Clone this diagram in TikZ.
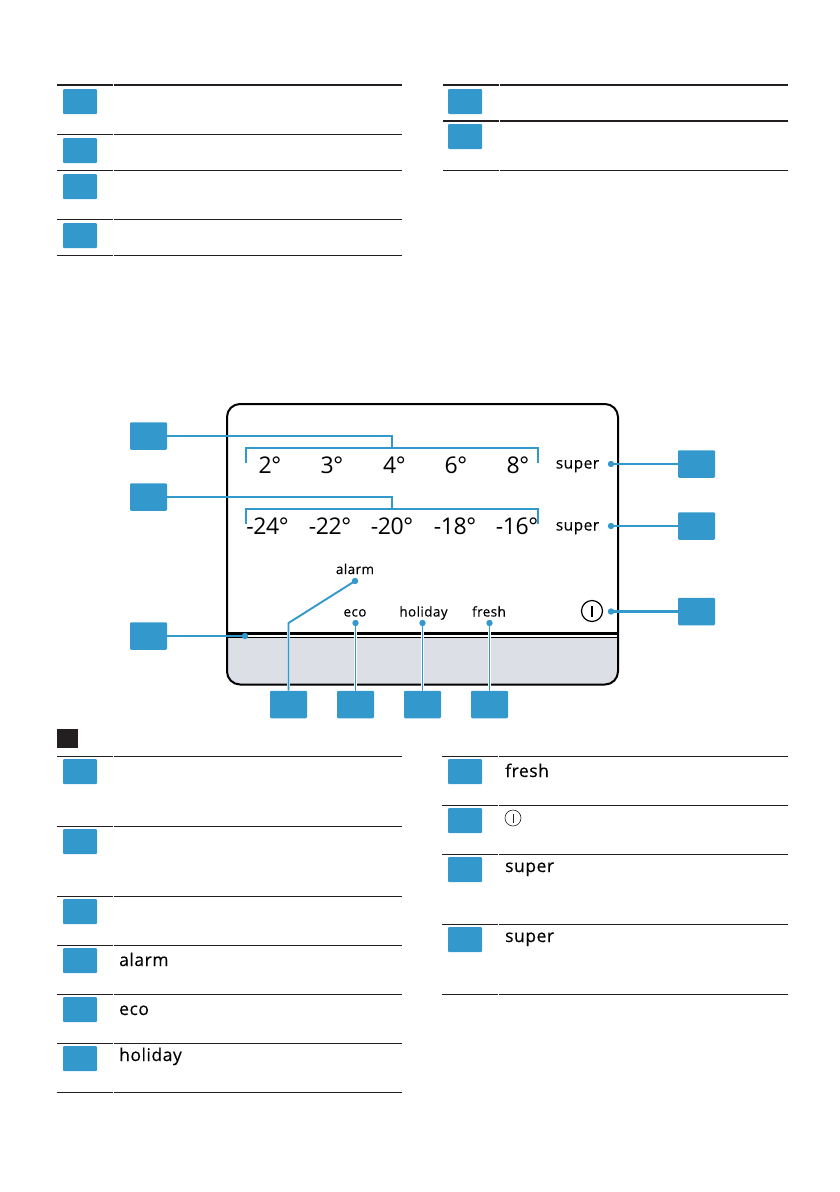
\documentclass[tikz,border=0pt]{standalone}
\usepackage{xcolor}
\usepackage{fontspec}
\setmainfont{Open Sans}[LetterSpace=3,FakeBold=0.25]
\newfontfamily\digitfont{Open Sans}[LetterSpace=-2]
\usetikzlibrary{positioning,calc}
\definecolor{calloutblue}{HTML}{3399CC}
\definecolor{rulegray}{HTML}{231F20}
\definecolor{panelgray}{HTML}{DCDFE6}
\tikzset{
    tablebox/.style={fill=calloutblue,draw=none,rounded corners=1pt,inner sep=0pt,minimum width=34pt,minimum height=25pt},
    calloutbox/.style={fill=calloutblue,draw=none,rounded corners=1.2pt,inner sep=0pt,minimum width=37pt,minimum height=27.5pt},
    dotmark/.style={circle,inner sep=0pt,minimum size=6.4pt},
    leader/.style={draw=calloutblue,line width=1.9pt},
    halo/.style={preaction={draw=white,line width=2.8pt}},
    smalllabel/.style={font=\fontsize{13.5}{16}\selectfont,anchor=base,inner sep=0pt},
    superlabel/.style={font=\fontsize{15.5}{18}\selectfont,anchor=base,inner sep=0pt},
    biglabel/.style={font=\fontsize{17.5}{20}\selectfont,anchor=base west,inner sep=0pt},
    templabel/.style={font=\fontsize{23}{25}\selectfont,anchor=base,inner sep=0pt},
    tablerule/.style={draw=rulegray,line width=1pt}
}
\begin{document}
\begin{tikzpicture}[x=1pt,y=-1pt]
    \useasboundingbox (0,0) rectangle (840,1192);
    % table rules
    \foreach \xa/\xb/\xc/\ypos/\wd in {
        57/113/402/85/2,57/113/402/134/1,57/113/402/170/1,57/113/402/219/1,57/113/402/255/1,
        443/499/788/85/2,443/499/788/120.5/2,443/499/788/170/1,
        57/113/402/756/1,57/113/402/826/1,57/113/402/896/1,57/113/402/945/1,57/113/402/994/1,57/113/402/1043/1,57/113/402/1092/1,
        442/498/788/756/1,442/498/788/805/1,442/498/788/854/1,442/498/788/924/1,442/498/788/994/1}{
        \draw[tablerule,line width=\wd pt] (\xa,\ypos) -- (\xb,\ypos);
        \draw[tablerule,line width=\wd pt] (\xb+0.6,\ypos) -- (\xc,\ypos);
    }
    % table boxes
    \foreach \xpos/\ypos in {
        80/101.5,80/150.5,80/186.5,80/235.5,
        465/101.5,465/136.5,
        80/771.5,80/841.5,80/911.5,80/960.5,80/1009.5,80/1058.5,
        465/771.5,465/820.5,465/869.5,465/939.5}{
        \node[tablebox] at (\xpos,\ypos) {};
    }
    \node[fill=rulegray,inner sep=0pt,minimum width=21pt,minimum height=19pt] (notesquare) at (67.5,738.5) {};
    % table labels
    \node[biglabel] (rowalarm) at (119,966) {alarm};
    \node[biglabel] (roweco) at (119,1015) {eco};
    \node[biglabel] (rowholiday) at (119,1061) {holiday};
    \node[biglabel] (rowfresh) at (505,777) {fresh};
    \node[biglabel] (rowsupera) at (505,872) {super};
    \node[biglabel] (rowsuperb) at (505,942) {super};
    \node[circle,draw=rulegray,line width=0.6pt,inner sep=0pt,minimum size=16pt] (rowpower) at (513,818) {};
    \draw[rulegray,line width=0.6pt] ($(rowpower.center)+(0,-4.5)$) -- ($(rowpower.center)+(0,4.5)$);
    % display
    \fill[panelgray] (227,638) -- (618,638) -- (618,671) arc[start angle=0,end angle=90,radius=13] -- (240,684) arc[start angle=90,end angle=180,radius=13] -- cycle;
    \draw[black,line width=2pt,rounded corners=13pt] (227,404) rectangle (618,684.5);
    \draw[black,line width=3pt] (227,633.5) -- (618,633.5);
    \draw[black,line width=1.3pt] (227,637.5) -- (618,637.5);
    % temperatures
    \foreach \xpos/\temp in {270/2,332/3,394.5/4,456/6,518/8}{
        \node[templabel] at (\xpos,473) {\digitfont\temp°};
    }
    \foreach \xpos/\temp in {267.5/-24,330/-22,392/-20,455/-18,517/-16}{
        \node[templabel] at (\xpos,534) {\digitfont\temp°};
    }
    % display labels
    \node[smalllabel] (labalarm) at (355,574) {alarm};
    \node[smalllabel] (labeco) at (355,616.5) {eco};
    \node[smalllabel] (labholiday) at (423.5,616.5) {holiday};
    \node[smalllabel] (labfresh) at (489,616.5) {fresh};
    \node[superlabel] (labsupera) at (577.5,468.5) {super};
    \node[superlabel] (labsuperb) at (577.5,530.5) {super};
    \node[circle,draw=black,line width=1.2pt,inner sep=0pt,minimum size=21pt] (labpower) at (592,611) {};
    \draw[black,line width=1.3pt] ($(labpower.center)+(0,-5.5)$) -- ($(labpower.center)+(0,5.5)$);
    % callout boxes
    \node[calloutbox] (boxtempa) at (148.5,436) {};
    \node[calloutbox] (boxtempb) at (148.5,497) {};
    \node[calloutbox] (boxpanel) at (148.5,636) {};
    \node[calloutbox] (boxalarm) at (288.5,704.5) {};
    \node[calloutbox] (boxeco) at (355.5,704.5) {};
    \node[calloutbox] (boxholiday) at (422.5,704.5) {};
    \node[calloutbox] (boxfresh) at (489.5,704.5) {};
    \node[calloutbox] (boxsupera) at (696.5,464) {};
    \node[calloutbox] (boxsuperb) at (696.5,526) {};
    \node[calloutbox] (boxpower) at (696.5,611.5) {};
    % brackets
    \coordinate (brkal) at (246,463);
    \coordinate (brkam) at (392,448);
    \coordinate (brkar) at (538,463);
    \coordinate (brkbl) at (246,524);
    \coordinate (brkbm) at (392,508.7);
    \coordinate (brkbr) at (538,524);
    \draw[leader] (brkal) |- (brkam) -| (brkar);
    \draw[leader] (brkbl) |- (brkbm) -| (brkbr);
    \draw[leader,halo] (boxtempa.east) -| (brkam);
    \draw[leader,halo] (boxtempb.east) -| (brkbm);
    % dots and leaders
    \node[dotmark] (dotpanel) at (245,636) {};
    \node[dotmark] (dotalarm) at (355,581) {};
    \node[dotmark] (doteco) at (355.5,623) {};
    \node[dotmark] (dotholiday) at (422.5,623) {};
    \node[dotmark] (dotfresh) at (489.5,623) {};
    \node[dotmark] (dotsupera) at (611,464) {};
    \node[dotmark] (dotsuperb) at (611,526) {};
    \node[dotmark] (dotpower) at (611,611.5) {};
    \coordinate (alarmbend) at (288.5,623);
    \draw[leader,halo] (boxpanel.east) -- (dotpanel.center);
    \draw[leader,halo] (boxalarm.north) -- (alarmbend) -- (dotalarm.center);
    \draw[leader,halo] (boxeco.north) -- (doteco.center);
    \draw[leader,halo] (boxholiday.north) -- (dotholiday.center);
    \draw[leader,halo] (boxfresh.north) -- (dotfresh.center);
    \draw[leader,halo] (boxsupera.west) -- (dotsupera.center);
    \draw[leader,halo] (boxsuperb.west) -- (dotsuperb.center);
    \draw[leader,halo,line width=2.2pt] (boxpower.west) -- (dotpower.center);
    \foreach \dotname in {dotpanel,dotalarm,doteco,dotholiday,dotfresh,dotsupera,dotsuperb,dotpower}{
        \fill[calloutblue] (\dotname) circle (3.2pt);
    }
\end{tikzpicture}
\end{document}
